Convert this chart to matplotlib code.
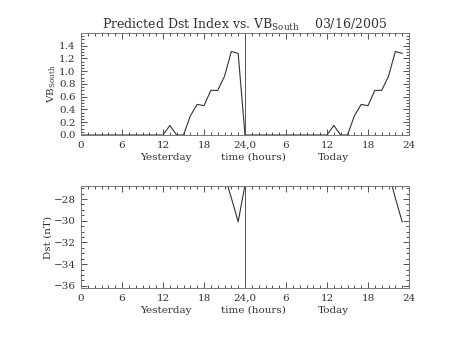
import numpy as np
import matplotlib
matplotlib.use("Agg")
import matplotlib.pyplot as plt
from matplotlib.ticker import MultipleLocator

# --- data (hours since start of yesterday) ---
vb_hours = [0, 12, 13, 14, 15, 16, 17, 18, 19, 20, 21, 22, 23, 24,
            24, 36, 37, 38, 39, 40, 41, 42, 43, 44, 45, 46, 47]
vb_south = [0.0, 0.0, 0.15, 0.0, 0.0, 0.30, 0.48, 0.46, 0.70, 0.70, 0.92, 1.31, 1.28, 0.0,
            0.0, 0.0, 0.15, 0.0, 0.0, 0.30, 0.48, 0.46, 0.70, 0.70, 0.92, 1.31, 1.28]

dst_hours = [20, 21, 22, 23, 24, 25, 44, 45, 46, 47]
dst_vals = [-24.0, -25.8, -27.9, -30.1, -26.7, -24.0, -24.0, -25.6, -27.9, -30.1]

xtick_pos = [0, 6, 12, 18, 24, 30, 36, 42, 48]
xtick_lab = ['0', '6', '12', '18', '24,0', '6', '12', '18', '24']
title = 'Predicted Dst Index vs. VB$_{\\mathrm{South}}$    03/16/2005'

plt.rcParams['font.family'] = ['DejaVu Serif']
plt.rcParams['mathtext.fontset'] = 'dejavuserif'
ink = '#333333'

fig = plt.figure(figsize=(4.53, 3.40), dpi=100)
ax1 = fig.add_axes([81/453, 1 - 135/340, 328/453, 102/340])
ax2 = fig.add_axes([81/453, 1 - 288/340, 328/453, 102/340])


def style(ax):
    ax.set_xlim(0, 48)
    ax.set_xticks(xtick_pos)
    ax.set_xticklabels(xtick_lab)
    ax.xaxis.set_minor_locator(MultipleLocator(1))
    ax.tick_params(which='both', direction='in', top=True, right=True,
                   colors=ink, labelsize=7.5, width=0.6)
    ax.tick_params(which='major', length=4, pad=4)
    ax.tick_params(which='minor', length=2)
    for s in ax.spines.values():
        s.set_color('#777777')
        s.set_linewidth(0.7)
    ax.axvline(24, color='#555555', lw=0.7)
    tr = ax.get_xaxis_transform()
    for xpos, lab in [(12.4, 'Yesterday'), (25.2, 'time (hours)'), (37, 'Today')]:
        ax.text(xpos, -0.22, lab, transform=tr, ha='center', va='center',
                fontsize=7.5, color=ink)


ax1.plot(vb_hours[:14], vb_south[:14], color=ink, lw=0.8)
ax1.plot(vb_hours[14:], vb_south[14:], color=ink, lw=0.8)
ax1.set_ylim(0, 1.6)
ax1.set_yticks(np.arange(0, 1.41, 0.2))
ax1.set_yticklabels(['%.1f' % v for v in np.arange(0, 1.41, 0.2)])
ax1.yaxis.set_minor_locator(MultipleLocator(0.05))
style(ax1)
ax1.set_ylabel('VB$_{\\mathrm{South}}$', fontsize=7.5, color=ink, labelpad=1)
ax1.set_title(title, fontsize=9, color=ink, pad=2)

ax2.plot(dst_hours[:6], dst_vals[:6], color=ink, lw=0.8)
ax2.plot(dst_hours[6:], dst_vals[6:], color=ink, lw=0.8)
ax2.set_ylim(-36.2, -26.8)
ax2.set_yticks([-36, -34, -32, -30, -28])
ax2.set_yticklabels(['\u221236', '\u221234', '\u221232', '\u221230', '\u221228'])
ax2.yaxis.set_minor_locator(MultipleLocator(0.5))
style(ax2)
ax2.set_ylabel('Dst (nT)', fontsize=7.5, color=ink, labelpad=1)

fig.savefig('out.png', dpi=100)
